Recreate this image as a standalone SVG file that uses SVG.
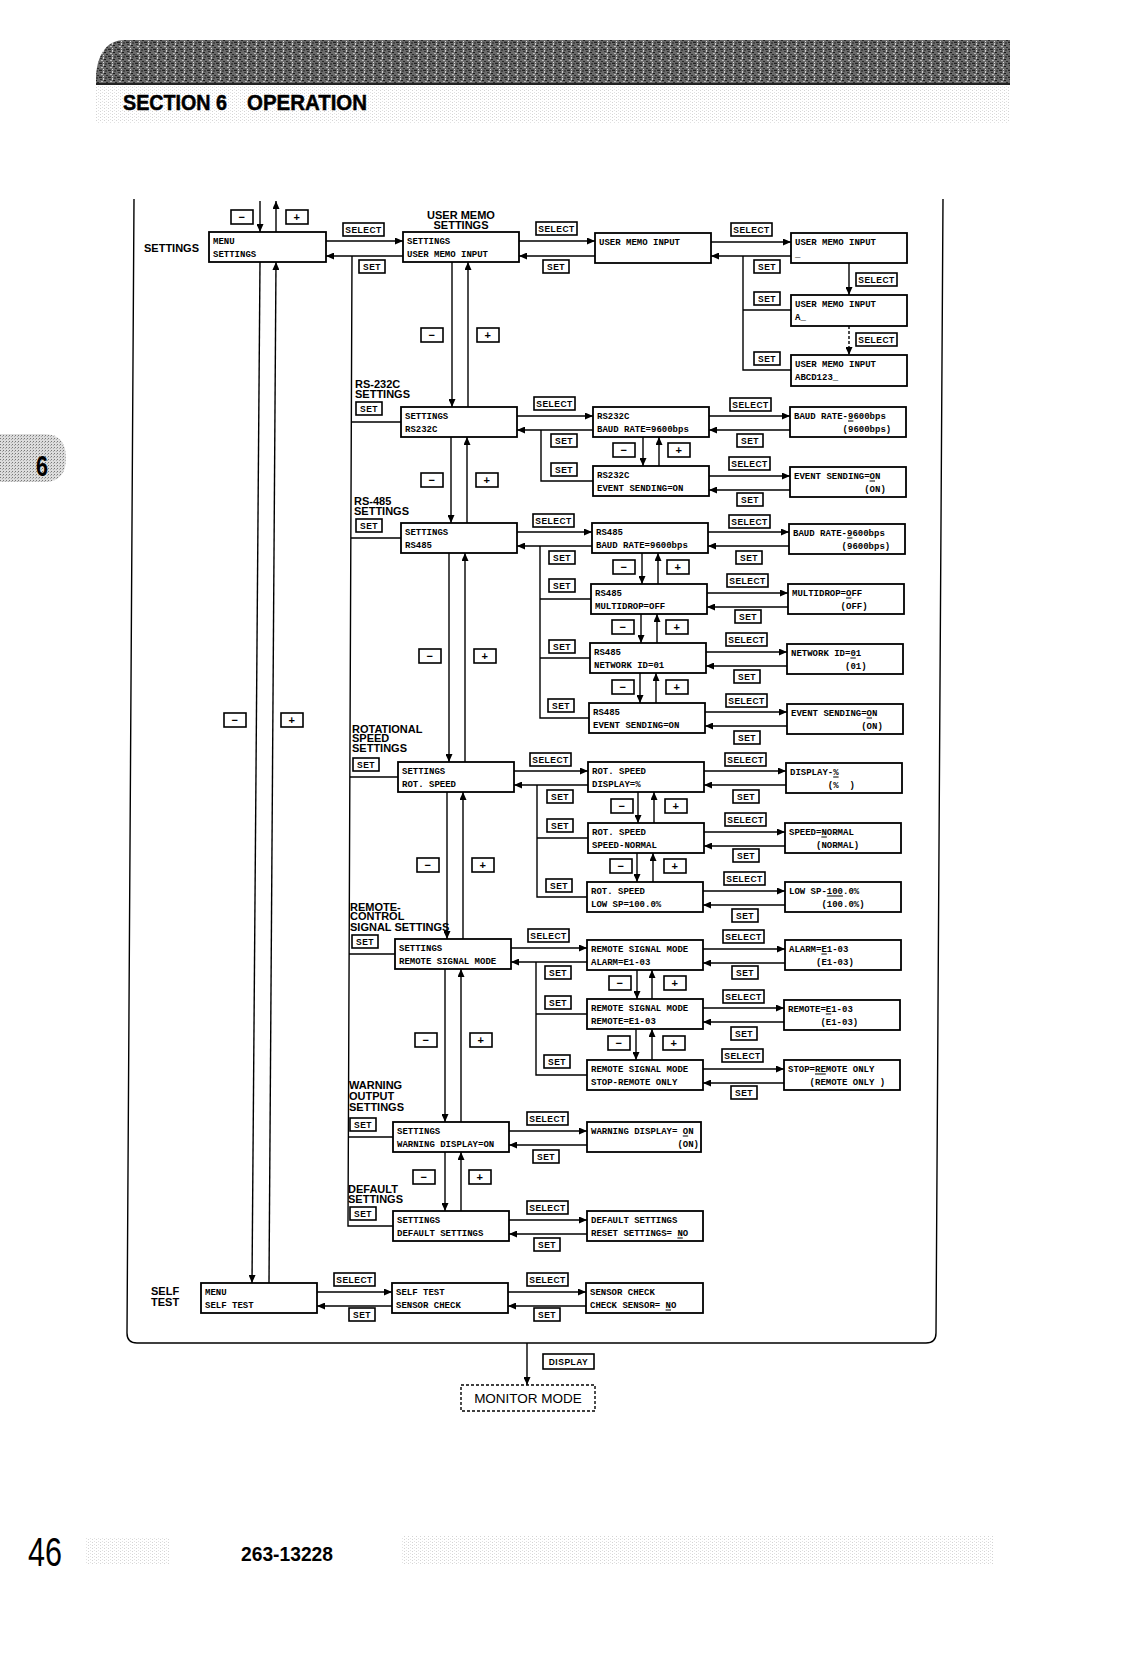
<svg xmlns="http://www.w3.org/2000/svg" width="1124" height="1658" viewBox="0 0 1124 1658">
<defs>
<style>
.bx{fill:#fff;stroke:#000;stroke-width:1.8}
.lcd{font-family:"Liberation Mono",monospace;font-weight:bold;font-size:9px;fill:#000}
.ul{stroke:#000;stroke-width:1}
.c{stroke:#000;stroke-width:1.4;fill:none}
.a{marker-end:url(#ah)}
.d{stroke-dasharray:3 2}
.k rect{fill:#fff;stroke:#000;stroke-width:1.6}
.k text{font-family:"Liberation Sans",Arial,sans-serif;font-weight:bold;font-size:8.5px;text-anchor:middle;letter-spacing:0.5px}
.pm text{font-size:11px}
.lb{font-family:"Liberation Sans",Arial,sans-serif;font-weight:bold;font-size:11px;fill:#000}
</style>
<marker id="ah" viewBox="0 0 8 7" refX="8" refY="3.5" markerWidth="8" markerHeight="7" markerUnits="userSpaceOnUse" orient="auto">
<path d="M0,0 L8,3.5 L0,7 Z" fill="#000"/>
</marker>
<pattern id="pDark" width="9" height="7" patternUnits="userSpaceOnUse">
<rect width="9" height="7" fill="#6a6a6a"/>
<rect x="0" y="0" width="3" height="1" fill="#222"/>
<rect x="4" y="1" width="1" height="2" fill="#cfcfcf"/>
<rect x="1" y="2" width="2" height="1" fill="#333"/>
<rect x="6" y="0" width="2" height="2" fill="#444"/>
<rect x="5" y="3" width="2" height="1" fill="#1a1a1a"/>
<rect x="2" y="4" width="2" height="1" fill="#bdbdbd"/>
<rect x="7" y="5" width="2" height="1" fill="#2a2a2a"/>
<rect x="0" y="6" width="3" height="1" fill="#555"/>
<rect x="4" y="6" width="1" height="1" fill="#ddd"/>
</pattern>
<pattern id="pLight" width="4" height="3" patternUnits="userSpaceOnUse">
<rect x="0" y="0" width="1" height="1" fill="#d4d4d4"/>
<rect x="2" y="2" width="1" height="1" fill="#e2e2e2"/>
</pattern>
<pattern id="pMid" width="3" height="3" patternUnits="userSpaceOnUse">
<rect width="3" height="3" fill="#dcdcdc"/>
<rect width="1" height="1" fill="#777"/>
<rect x="2" y="1" width="1" height="1" fill="#aaa"/>
</pattern>
</defs>
<rect width="1124" height="1658" fill="#fff"/>

<!-- header -->
<g id="header">
<path d="M96,84 L96,75 C98,52 108,40 125,40 L1010,40 L1010,84 Z" fill="url(#pDark)"/>
<line x1="96" y1="84" x2="1010" y2="84" stroke="#222" stroke-width="2"/>
<rect x="96" y="85" width="914" height="38" fill="url(#pLight)"/>
<text x="123" y="110" font-family="'Liberation Sans',Arial,sans-serif" font-weight="bold" font-size="22" stroke="#000" stroke-width="0.5" textLength="104" lengthAdjust="spacingAndGlyphs">SECTION 6</text>
<text x="247" y="110" font-family="'Liberation Sans',Arial,sans-serif" font-weight="bold" font-size="22" stroke="#000" stroke-width="0.5" textLength="120" lengthAdjust="spacingAndGlyphs">OPERATION</text>
</g>
<g id="tab">
<path d="M0,434 L44,434 Q66,434 66,458 Q66,482 44,482 L0,482 Z" fill="url(#pMid)"/>
<text x="36" y="476" font-family="'Liberation Sans',Arial,sans-serif" font-weight="bold" font-size="30" textLength="12" lengthAdjust="spacingAndGlyphs">6</text>
</g>

<!-- frame -->
<path d="M134,199 L127,1333 Q127,1343 137,1343 L926,1343 Q936,1343 936,1333 L943,199" fill="none" stroke="#000" stroke-width="1.4"/>

<!-- section labels -->
<g id="labels">
<text class="lb" x="144" y="252" font-size="12.5">SETTINGS</text>
<text class="lb" x="461" y="219" text-anchor="middle">USER MEMO</text>
<text class="lb" x="461" y="229" text-anchor="middle">SETTINGS</text>
<text class="lb" x="355" y="388">RS-232C</text>
<text class="lb" x="355" y="398">SETTINGS</text>
<text class="lb" x="354" y="505">RS-485</text>
<text class="lb" x="354" y="515">SETTINGS</text>
<text class="lb" x="352" y="733">ROTATIONAL</text>
<text class="lb" x="352" y="742">SPEED</text>
<text class="lb" x="352" y="752">SETTINGS</text>
<text class="lb" x="350" y="911">REMOTE-</text>
<text class="lb" x="350" y="920">CONTROL</text>
<text class="lb" x="350" y="931">SIGNAL SETTINGS</text>
<text class="lb" x="349" y="1089">WARNING</text>
<text class="lb" x="349" y="1100">OUTPUT</text>
<text class="lb" x="349" y="1111">SETTINGS</text>
<text class="lb" x="348" y="1193">DEFAULT</text>
<text class="lb" x="348" y="1203">SETTINGS</text>
<text class="lb" x="151" y="1295" font-size="11.5">SELF</text>
<text class="lb" x="151" y="1306" font-size="11.5">TEST</text>
</g>

<!-- connectors -->
<g id="connectors" class="c">
<path class="a" d="M260,201 V232"/>
<path class="a" d="M276,232 V201"/>
<path class="a" d="M260,262 L252,1283"/>
<path class="a" d="M269,1283 L276,262"/>
<path class="a" d="M326,241 H403"/>
<path class="a" d="M403,256 H326"/>
<path class="a" d="M519,241 H595"/>
<path class="a" d="M595,256 H519"/>
<path class="a" d="M711,242 H791"/>
<path class="a" d="M791,256 H711"/>
<path d="M743,256 V370 H791 M743,310 H791"/>
<path class="a" d="M849,263 V295"/>
<path class="a d" d="M849,326 V355"/>
<path d="M352,256 L348,1226 H393 M351.3,422 H401 M350.8,538 H401 M349.9,777 H398 M349.1,954 H395 M348.4,1137 H393"/>
<path class="a" d="M452,262 V407"/>
<path class="a" d="M468,407 V262"/>
<path class="a" d="M451,437 V523"/>
<path class="a" d="M467,523 V437"/>
<path class="a" d="M449,553 V762"/>
<path class="a" d="M465,762 V553"/>
<path class="a" d="M447,792 V939"/>
<path class="a" d="M463,939 V792"/>
<path class="a" d="M445,969 V1122"/>
<path class="a" d="M461,1122 V969"/>
<path class="a" d="M445,1152 V1211"/>
<path class="a" d="M461,1211 V1152"/>
<path class="a" d="M517,416 H593"/>
<path class="a" d="M593,430 H517"/>
<path d="M541,430 V481 H593"/>
<path class="a" d="M643,437 V466"/>
<path class="a" d="M659,466 V437"/>
<path class="a" d="M709,416 H790"/>
<path class="a" d="M790,430 H709"/>
<path class="a" d="M709,476 H790"/>
<path class="a" d="M790,490 H709"/>
<path class="a" d="M517,532 H592"/>
<path class="a" d="M592,546 H517"/>
<path d="M540,546 V718 H589 M540,599 H591 M540,658 H590"/>
<path class="a" d="M642,553 V584"/>
<path class="a" d="M658,584 V553"/>
<path class="a" d="M641,614 V643"/>
<path class="a" d="M657,643 V614"/>
<path class="a" d="M640,673 V703"/>
<path class="a" d="M656,703 V673"/>
<path class="a" d="M708,532 H789"/>
<path class="a" d="M789,546 H708"/>
<path class="a" d="M707,593 H788"/>
<path class="a" d="M788,607 H707"/>
<path class="a" d="M706,652 H787"/>
<path class="a" d="M787,666 H706"/>
<path class="a" d="M705,712 H787"/>
<path class="a" d="M787,726 H705"/>
<path class="a" d="M514,771 H588"/>
<path class="a" d="M588,785 H514"/>
<path d="M537,785 V897 H587 M537,838 H588"/>
<path class="a" d="M638,792 V823"/>
<path class="a" d="M654,823 V792"/>
<path class="a" d="M637,853 V882"/>
<path class="a" d="M653,882 V853"/>
<path class="a" d="M704,771 H786"/>
<path class="a" d="M786,785 H704"/>
<path class="a" d="M704,832 H785"/>
<path class="a" d="M785,846 H704"/>
<path class="a" d="M703,891 H785"/>
<path class="a" d="M785,905 H703"/>
<path class="a" d="M511,948 H587"/>
<path class="a" d="M587,962 H511"/>
<path d="M536,962 V1075 H587 M536,1014 H587"/>
<path class="a" d="M637,970 V999"/>
<path class="a" d="M652,999 V970"/>
<path class="a" d="M636,1029 V1060"/>
<path class="a" d="M652,1060 V1029"/>
<path class="a" d="M703,949 H785"/>
<path class="a" d="M785,963 H703"/>
<path class="a" d="M703,1008 H784"/>
<path class="a" d="M784,1022 H703"/>
<path class="a" d="M703,1069 H784"/>
<path class="a" d="M784,1083 H703"/>
<path class="a" d="M509,1131 H587"/>
<path class="a" d="M587,1145 H509"/>
<path class="a" d="M509,1220 H587"/>
<path class="a" d="M587,1234 H509"/>
<path class="a" d="M317,1292 H392"/>
<path class="a" d="M392,1306 H317"/>
<path class="a" d="M508,1292 H586"/>
<path class="a" d="M586,1306 H508"/>
<path class="a" d="M527,1343 V1385"/>
</g>

<!-- key labels on connectors -->
<g id="keys" class="k">
<g><rect x="343" y="223" width="41" height="13"/><text x="363.5" y="232.8">SELECT</text></g>
<g><rect x="536" y="222" width="41" height="13"/><text x="556.5" y="231.8">SELECT</text></g>
<g><rect x="731" y="223" width="41" height="13"/><text x="751.5" y="232.8">SELECT</text></g>
<g><rect x="856" y="273" width="41" height="13"/><text x="876.5" y="282.8">SELECT</text></g>
<g><rect x="856" y="333" width="41" height="13"/><text x="876.5" y="342.8">SELECT</text></g>
<g><rect x="534" y="397" width="41" height="13"/><text x="554.5" y="406.8">SELECT</text></g>
<g><rect x="730" y="398" width="41" height="13"/><text x="750.5" y="407.8">SELECT</text></g>
<g><rect x="729" y="457" width="41" height="13"/><text x="749.5" y="466.8">SELECT</text></g>
<g><rect x="533" y="514" width="41" height="13"/><text x="553.5" y="523.8">SELECT</text></g>
<g><rect x="729" y="515" width="41" height="13"/><text x="749.5" y="524.8">SELECT</text></g>
<g><rect x="727" y="574" width="41" height="13"/><text x="747.5" y="583.8">SELECT</text></g>
<g><rect x="726" y="633" width="41" height="13"/><text x="746.5" y="642.8">SELECT</text></g>
<g><rect x="726" y="694" width="41" height="13"/><text x="746.5" y="703.8">SELECT</text></g>
<g><rect x="530" y="753" width="41" height="13"/><text x="550.5" y="762.8">SELECT</text></g>
<g><rect x="725" y="753" width="41" height="13"/><text x="745.5" y="762.8">SELECT</text></g>
<g><rect x="725" y="813" width="41" height="13"/><text x="745.5" y="822.8">SELECT</text></g>
<g><rect x="724" y="872" width="41" height="13"/><text x="744.5" y="881.8">SELECT</text></g>
<g><rect x="528" y="929" width="41" height="13"/><text x="548.5" y="938.8">SELECT</text></g>
<g><rect x="723" y="930" width="41" height="13"/><text x="743.5" y="939.8">SELECT</text></g>
<g><rect x="723" y="990" width="41" height="13"/><text x="743.5" y="999.8">SELECT</text></g>
<g><rect x="722" y="1049" width="41" height="13"/><text x="742.5" y="1058.8">SELECT</text></g>
<g><rect x="527" y="1112" width="41" height="13"/><text x="547.5" y="1121.8">SELECT</text></g>
<g><rect x="527" y="1201" width="41" height="13"/><text x="547.5" y="1210.8">SELECT</text></g>
<g><rect x="334" y="1273" width="41" height="13"/><text x="354.5" y="1282.8">SELECT</text></g>
<g><rect x="527" y="1273" width="41" height="13"/><text x="547.5" y="1282.8">SELECT</text></g>

<g><rect x="359" y="260" width="26" height="13"/><text x="372" y="269.8">SET</text></g>
<g><rect x="543" y="260" width="26" height="13"/><text x="556" y="269.8">SET</text></g>
<g><rect x="754" y="260" width="26" height="13"/><text x="767" y="269.8">SET</text></g>
<g><rect x="754" y="292" width="26" height="13"/><text x="767" y="301.8">SET</text></g>
<g><rect x="754" y="352" width="26" height="13"/><text x="767" y="361.8">SET</text></g>
<g><rect x="356" y="402" width="26" height="13"/><text x="369" y="411.8">SET</text></g>
<g><rect x="551" y="434" width="26" height="13"/><text x="564" y="443.8">SET</text></g>
<g><rect x="551" y="463" width="26" height="13"/><text x="564" y="472.8">SET</text></g>
<g><rect x="737" y="434" width="26" height="13"/><text x="750" y="443.8">SET</text></g>
<g><rect x="737" y="493" width="26" height="13"/><text x="750" y="502.8">SET</text></g>
<g><rect x="356" y="519" width="26" height="13"/><text x="369" y="528.8">SET</text></g>
<g><rect x="549" y="551" width="26" height="13"/><text x="562" y="560.8">SET</text></g>
<g><rect x="549" y="579" width="26" height="13"/><text x="562" y="588.8">SET</text></g>
<g><rect x="549" y="640" width="26" height="13"/><text x="562" y="649.8">SET</text></g>
<g><rect x="548" y="699" width="26" height="13"/><text x="561" y="708.8">SET</text></g>
<g><rect x="736" y="551" width="26" height="13"/><text x="749" y="560.8">SET</text></g>
<g><rect x="735" y="610" width="26" height="13"/><text x="748" y="619.8">SET</text></g>
<g><rect x="734" y="670" width="26" height="13"/><text x="747" y="679.8">SET</text></g>
<g><rect x="734" y="731" width="26" height="13"/><text x="747" y="740.8">SET</text></g>
<g><rect x="353" y="758" width="26" height="13"/><text x="366" y="767.8">SET</text></g>
<g><rect x="547" y="790" width="26" height="13"/><text x="560" y="799.8">SET</text></g>
<g><rect x="547" y="819" width="26" height="13"/><text x="560" y="828.8">SET</text></g>
<g><rect x="546" y="879" width="26" height="13"/><text x="559" y="888.8">SET</text></g>
<g><rect x="733" y="790" width="26" height="13"/><text x="746" y="799.8">SET</text></g>
<g><rect x="733" y="849" width="26" height="13"/><text x="746" y="858.8">SET</text></g>
<g><rect x="732" y="909" width="26" height="13"/><text x="745" y="918.8">SET</text></g>
<g><rect x="352" y="935" width="26" height="13"/><text x="365" y="944.8">SET</text></g>
<g><rect x="545" y="966" width="26" height="13"/><text x="558" y="975.8">SET</text></g>
<g><rect x="545" y="996" width="26" height="13"/><text x="558" y="1005.8">SET</text></g>
<g><rect x="544" y="1055" width="26" height="13"/><text x="557" y="1064.8">SET</text></g>
<g><rect x="732" y="966" width="26" height="13"/><text x="745" y="975.8">SET</text></g>
<g><rect x="731" y="1027" width="26" height="13"/><text x="744" y="1036.8">SET</text></g>
<g><rect x="731" y="1086" width="26" height="13"/><text x="744" y="1095.8">SET</text></g>
<g><rect x="350" y="1118" width="26" height="13"/><text x="363" y="1127.8">SET</text></g>
<g><rect x="533" y="1150" width="26" height="13"/><text x="546" y="1159.8">SET</text></g>
<g><rect x="350" y="1207" width="26" height="13"/><text x="363" y="1216.8">SET</text></g>
<g><rect x="534" y="1238" width="26" height="13"/><text x="547" y="1247.8">SET</text></g>
<g><rect x="349" y="1308" width="26" height="13"/><text x="362" y="1317.8">SET</text></g>
<g><rect x="534" y="1308" width="26" height="13"/><text x="547" y="1317.8">SET</text></g>

<g><rect x="543" y="1354" width="51" height="15"/><text x="568.5" y="1365">DISPLAY</text></g>

<g class="pm">
<g><rect x="231" y="210" width="22" height="14"/><text x="242" y="221">−</text></g>
<g><rect x="286" y="210" width="22" height="14"/><text x="297" y="221">+</text></g>
<g><rect x="224" y="713" width="22" height="14"/><text x="235" y="724">−</text></g>
<g><rect x="281" y="713" width="22" height="14"/><text x="292" y="724">+</text></g>
<g><rect x="421" y="328" width="22" height="14"/><text x="432" y="339">−</text></g>
<g><rect x="477" y="328" width="22" height="14"/><text x="488" y="339">+</text></g>
<g><rect x="421" y="473" width="22" height="14"/><text x="432" y="484">−</text></g>
<g><rect x="476" y="473" width="22" height="14"/><text x="487" y="484">+</text></g>
<g><rect x="419" y="649" width="22" height="14"/><text x="430" y="660">−</text></g>
<g><rect x="474" y="649" width="22" height="14"/><text x="485" y="660">+</text></g>
<g><rect x="417" y="858" width="22" height="14"/><text x="428" y="869">−</text></g>
<g><rect x="472" y="858" width="22" height="14"/><text x="483" y="869">+</text></g>
<g><rect x="415" y="1033" width="22" height="14"/><text x="426" y="1044">−</text></g>
<g><rect x="470" y="1033" width="22" height="14"/><text x="481" y="1044">+</text></g>
<g><rect x="413" y="1170" width="22" height="14"/><text x="424" y="1181">−</text></g>
<g><rect x="469" y="1170" width="22" height="14"/><text x="480" y="1181">+</text></g>
<g><rect x="613" y="443" width="22" height="14"/><text x="624" y="454">−</text></g>
<g><rect x="668" y="443" width="22" height="14"/><text x="679" y="454">+</text></g>
<g><rect x="613" y="560" width="22" height="14"/><text x="624" y="571">−</text></g>
<g><rect x="667" y="560" width="22" height="14"/><text x="678" y="571">+</text></g>
<g><rect x="612" y="620" width="22" height="14"/><text x="623" y="631">−</text></g>
<g><rect x="666" y="620" width="22" height="14"/><text x="677" y="631">+</text></g>
<g><rect x="612" y="680" width="22" height="14"/><text x="623" y="691">−</text></g>
<g><rect x="666" y="680" width="22" height="14"/><text x="677" y="691">+</text></g>
<g><rect x="611" y="799" width="22" height="14"/><text x="622" y="810">−</text></g>
<g><rect x="665" y="799" width="22" height="14"/><text x="676" y="810">+</text></g>
<g><rect x="610" y="859" width="22" height="14"/><text x="621" y="870">−</text></g>
<g><rect x="664" y="859" width="22" height="14"/><text x="675" y="870">+</text></g>
<g><rect x="609" y="976" width="22" height="14"/><text x="620" y="987">−</text></g>
<g><rect x="664" y="976" width="22" height="14"/><text x="675" y="987">+</text></g>
<g><rect x="608" y="1036" width="22" height="14"/><text x="619" y="1047">−</text></g>
<g><rect x="663" y="1036" width="22" height="14"/><text x="674" y="1047">+</text></g>
</g>
</g>

<!-- nodes -->
<g id="n-menu-settings"><rect class="bx" x="209" y="232" width="117" height="30"/><text class="lcd" x="213" y="244">MENU</text><text class="lcd" x="213" y="257">SETTINGS</text></g>
<g id="n-um1"><rect class="bx" x="403" y="232" width="116" height="30"/><text class="lcd" x="407" y="244">SETTINGS</text><text class="lcd" x="407" y="257">USER MEMO INPUT</text></g>
<g id="n-um2"><rect class="bx" x="595" y="233" width="116" height="30"/><text class="lcd" x="599" y="245">USER MEMO INPUT</text></g>
<g id="n-um3"><rect class="bx" x="791" y="233" width="116" height="30"/><text class="lcd" x="795" y="245">USER MEMO INPUT</text><text class="lcd" x="795" y="257">_</text></g>
<g id="n-um4"><rect class="bx" x="791" y="295" width="116" height="31"/><text class="lcd" x="795" y="307">USER MEMO INPUT</text><text class="lcd" x="795" y="320">A_</text></g>
<g id="n-um5"><rect class="bx" x="791" y="355" width="116" height="31"/><text class="lcd" x="795" y="367">USER MEMO INPUT</text><text class="lcd" x="795" y="380">ABCD123_</text></g>

<g id="n-rs232"><rect class="bx" x="401" y="407" width="116" height="30"/><text class="lcd" x="405" y="419">SETTINGS</text><text class="lcd" x="405" y="432">RS232C</text></g>
<g id="n-rs232-baud"><rect class="bx" x="593" y="407" width="116" height="30"/><text class="lcd" x="597" y="419">RS232C</text><text class="lcd" x="597" y="432">BAUD RATE=9600bps</text></g>
<g id="n-rs232-event"><rect class="bx" x="593" y="466" width="116" height="30"/><text class="lcd" x="597" y="478">RS232C</text><text class="lcd" x="597" y="491">EVENT SENDING=ON</text></g>
<g id="n-rs232-baud-set"><rect class="bx" x="790" y="407" width="116" height="30"/><text class="lcd" x="794" y="419">BAUD RATE-9600bps</text><line class="ul" x1="848" y1="421" x2="853.4" y2="421"/><text class="lcd" x="842.6" y="432">(9600bps)</text></g>
<g id="n-rs232-event-set"><rect class="bx" x="790" y="467" width="116" height="30"/><text class="lcd" x="794" y="479">EVENT SENDING=ON</text><line class="ul" x1="869.6" y1="481" x2="875" y2="481"/><text class="lcd" x="864.2" y="492">(ON)</text></g>

<g id="n-rs485"><rect class="bx" x="401" y="523" width="116" height="30"/><text class="lcd" x="405" y="535">SETTINGS</text><text class="lcd" x="405" y="548">RS485</text></g>
<g id="n-rs485-baud"><rect class="bx" x="592" y="523" width="116" height="30"/><text class="lcd" x="596" y="535">RS485</text><text class="lcd" x="596" y="548">BAUD RATE=9600bps</text></g>
<g id="n-rs485-multi"><rect class="bx" x="591" y="584" width="116" height="30"/><text class="lcd" x="595" y="596">RS485</text><text class="lcd" x="595" y="609">MULTIDROP=OFF</text></g>
<g id="n-rs485-net"><rect class="bx" x="590" y="643" width="116" height="30"/><text class="lcd" x="594" y="655">RS485</text><text class="lcd" x="594" y="668">NETWORK ID=01</text></g>
<g id="n-rs485-event"><rect class="bx" x="589" y="703" width="116" height="30"/><text class="lcd" x="593" y="715">RS485</text><text class="lcd" x="593" y="728">EVENT SENDING=ON</text></g>
<g id="n-rs485-baud-set"><rect class="bx" x="789" y="524" width="116" height="30"/><text class="lcd" x="793" y="536">BAUD RATE-9600bps</text><line class="ul" x1="847" y1="538" x2="852.4" y2="538"/><text class="lcd" x="841.6" y="549">(9600bps)</text></g>
<g id="n-rs485-multi-set"><rect class="bx" x="788" y="584" width="116" height="30"/><text class="lcd" x="792" y="596">MULTIDROP=OFF</text><line class="ul" x1="846" y1="598" x2="851.4" y2="598"/><text class="lcd" x="840.6" y="609">(OFF)</text></g>
<g id="n-rs485-net-set"><rect class="bx" x="787" y="644" width="116" height="30"/><text class="lcd" x="791" y="656">NETWORK ID=01</text><line class="ul" x1="850.4" y1="658" x2="855.8" y2="658"/><text class="lcd" x="845" y="669">(01)</text></g>
<g id="n-rs485-event-set"><rect class="bx" x="787" y="704" width="116" height="30"/><text class="lcd" x="791" y="716">EVENT SENDING=ON</text><line class="ul" x1="866.6" y1="718" x2="872" y2="718"/><text class="lcd" x="861.2" y="729">(ON)</text></g>

<g id="n-rot"><rect class="bx" x="398" y="762" width="116" height="30"/><text class="lcd" x="402" y="774">SETTINGS</text><text class="lcd" x="402" y="787">ROT. SPEED</text></g>
<g id="n-rot-disp"><rect class="bx" x="588" y="762" width="116" height="30"/><text class="lcd" x="592" y="774">ROT. SPEED</text><text class="lcd" x="592" y="787">DISPLAY=%</text></g>
<g id="n-rot-speed"><rect class="bx" x="588" y="823" width="116" height="30"/><text class="lcd" x="592" y="835">ROT. SPEED</text><text class="lcd" x="592" y="848">SPEED-NORMAL</text></g>
<g id="n-rot-low"><rect class="bx" x="587" y="882" width="116" height="30"/><text class="lcd" x="591" y="894">ROT. SPEED</text><text class="lcd" x="591" y="907">LOW SP=100.0%</text></g>
<g id="n-rot-disp-set"><rect class="bx" x="786" y="763" width="116" height="30"/><text class="lcd" x="790" y="775">DISPLAY-%</text><line class="ul" x1="833.2" y1="777" x2="838.6" y2="777"/><text class="lcd" x="827.8" y="788" xml:space="preserve">(%  )</text></g>
<g id="n-rot-speed-set"><rect class="bx" x="785" y="823" width="116" height="30"/><text class="lcd" x="789" y="835">SPEED=NORMAL</text><line class="ul" x1="821.4" y1="837" x2="826.8" y2="837"/><text class="lcd" x="816" y="848">(NORMAL)</text></g>
<g id="n-rot-low-set"><rect class="bx" x="785" y="882" width="116" height="30"/><text class="lcd" x="789" y="894">LOW SP-100.0%</text><line class="ul" x1="826.8" y1="896" x2="843" y2="896"/><text class="lcd" x="821.4" y="907">(100.0%)</text></g>

<g id="n-remote"><rect class="bx" x="395" y="939" width="116" height="30"/><text class="lcd" x="399" y="951">SETTINGS</text><text class="lcd" x="399" y="964">REMOTE SIGNAL MODE</text></g>
<g id="n-remote-alarm"><rect class="bx" x="587" y="940" width="116" height="30"/><text class="lcd" x="591" y="952">REMOTE SIGNAL MODE</text><text class="lcd" x="591" y="965">ALARM=E1-03</text></g>
<g id="n-remote-remote"><rect class="bx" x="587" y="999" width="116" height="30"/><text class="lcd" x="591" y="1011">REMOTE SIGNAL MODE</text><text class="lcd" x="591" y="1024">REMOTE=E1-03</text></g>
<g id="n-remote-stop"><rect class="bx" x="587" y="1060" width="116" height="30"/><text class="lcd" x="591" y="1072">REMOTE SIGNAL MODE</text><text class="lcd" x="591" y="1085">STOP-REMOTE ONLY</text></g>
<g id="n-remote-alarm-set"><rect class="bx" x="785" y="940" width="116" height="30"/><text class="lcd" x="789" y="952">ALARM=E1-03</text><line class="ul" x1="821.4" y1="954" x2="826.8" y2="954"/><text class="lcd" x="816" y="965">(E1-03)</text></g>
<g id="n-remote-remote-set"><rect class="bx" x="784" y="1000" width="116" height="30"/><text class="lcd" x="788" y="1012">REMOTE=E1-03</text><line class="ul" x1="825.8" y1="1014" x2="831.2" y2="1014"/><text class="lcd" x="820.4" y="1025">(E1-03)</text></g>
<g id="n-remote-stop-set"><rect class="bx" x="784" y="1060" width="116" height="30"/><text class="lcd" x="788" y="1072">STOP=REMOTE ONLY</text><line class="ul" x1="815" y1="1074" x2="825.8" y2="1074"/><text class="lcd" x="809.6" y="1085">(REMOTE ONLY )</text></g>

<g id="n-warning"><rect class="bx" x="393" y="1122" width="116" height="30"/><text class="lcd" x="397" y="1134">SETTINGS</text><text class="lcd" x="397" y="1147">WARNING DISPLAY=ON</text></g>
<g id="n-warning-set"><rect class="bx" x="587" y="1122" width="114" height="30"/><text class="lcd" x="591" y="1134">WARNING DISPLAY= ON</text><line class="ul" x1="682.8" y1="1136" x2="688.2" y2="1136"/><text class="lcd" x="677.4" y="1147">(ON)</text></g>

<g id="n-default"><rect class="bx" x="393" y="1211" width="116" height="30"/><text class="lcd" x="397" y="1223">SETTINGS</text><text class="lcd" x="397" y="1236">DEFAULT SETTINGS</text></g>
<g id="n-default-set"><rect class="bx" x="587" y="1211" width="116" height="30"/><text class="lcd" x="591" y="1223">DEFAULT SETTINGS</text><text class="lcd" x="591" y="1236">RESET SETTINGS= NO</text><line class="ul" x1="677.4" y1="1238" x2="682.8" y2="1238"/></g>

<g id="n-menu-selftest"><rect class="bx" x="201" y="1283" width="116" height="30"/><text class="lcd" x="205" y="1295">MENU</text><text class="lcd" x="205" y="1308">SELF TEST</text></g>
<g id="n-selftest"><rect class="bx" x="392" y="1283" width="116" height="30"/><text class="lcd" x="396" y="1295">SELF TEST</text><text class="lcd" x="396" y="1308">SENSOR CHECK</text></g>
<g id="n-sensor"><rect class="bx" x="586" y="1283" width="117" height="30"/><text class="lcd" x="590" y="1295">SENSOR CHECK</text><text class="lcd" x="590" y="1308">CHECK SENSOR= NO</text><line class="ul" x1="665.6" y1="1310" x2="671" y2="1310"/></g>

<g id="n-monitor"><rect x="461" y="1385" width="134" height="26" fill="#fff" stroke="#000" stroke-width="1.4" stroke-dasharray="3 2"/><text x="528" y="1403" text-anchor="middle" font-family="'Liberation Sans',Arial,sans-serif" font-size="13.5">MONITOR MODE</text></g>

<!-- footer -->
<g id="footer">
<rect x="85" y="1538" width="84" height="27" fill="url(#pLight)"/>
<rect x="402" y="1536" width="592" height="29" fill="url(#pLight)"/>
<text x="28" y="1566" font-family="'Liberation Sans',Arial,sans-serif" font-size="40" textLength="34" lengthAdjust="spacingAndGlyphs">46</text>
<text x="241" y="1561" font-family="'Liberation Sans',Arial,sans-serif" font-weight="bold" font-size="20" textLength="92" lengthAdjust="spacingAndGlyphs">263-13228</text>
</g>
</svg>
